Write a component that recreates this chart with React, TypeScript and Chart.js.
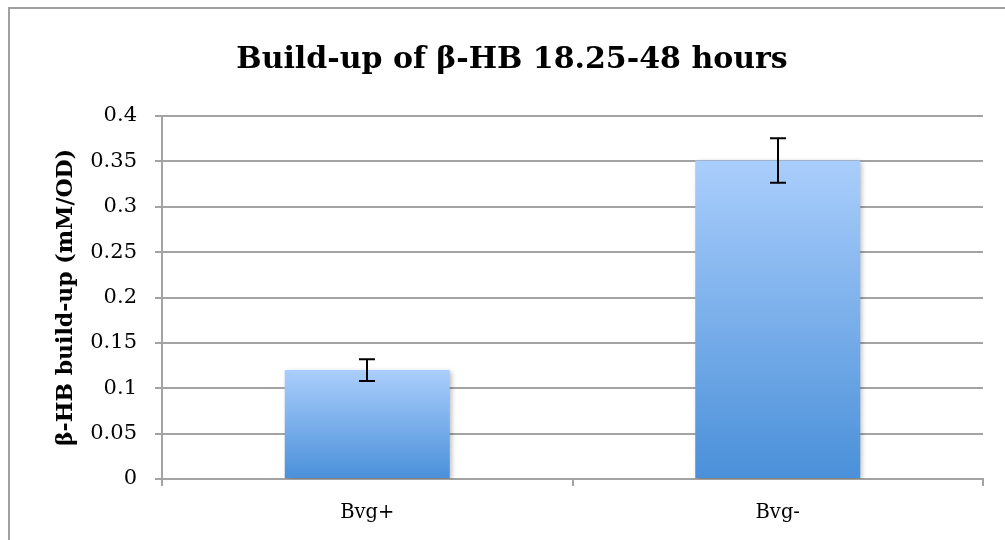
import React, { useEffect, useRef } from 'react';
import { Chart, registerables } from 'chart.js';

Chart.register(...registerables);

const categories = ['Bvg+', 'Bvg-'];
const values = [0.12, 0.351];
const errors = [0.012, 0.0245];
const yTickLabels = ['0', '0.05', '0.1', '0.15', '0.2', '0.25', '0.3', '0.35', '0.4'];
const titleText = 'Build-up of β-HB 18.25-48 hours';
const yAxisTitle = 'β-HB build-up (mM/OD)';

const GRID = '#a3a3a3';
const FONT = '"DejaVu Serif", serif';

export default function App() {
  const ref = useRef<HTMLCanvasElement | null>(null);

  useEffect(() => {
    document.body.style.margin = '0';
    document.body.style.overflow = 'hidden';
    const canvas = ref.current;
    if (!canvas) return;

    const framePlugin = {
      id: 'frame',
      beforeDraw(chart: any) {
        const ctx = chart.ctx;
        ctx.save();
        ctx.fillStyle = '#ffffff';
        ctx.fillRect(0, 0, chart.width, chart.height);
        ctx.fillStyle = '#a0a0a0';
        ctx.fillRect(8, 7, chart.width - 8, 2);
        ctx.fillRect(8, 7, 2, chart.height - 7);
        ctx.restore();
      },
      afterDraw(chart: any) {
        const ctx = chart.ctx;
        ctx.save();
        ctx.font = 'bold 30px ' + FONT;
        ctx.fillStyle = '#000000';
        ctx.textAlign = 'center';
        ctx.textBaseline = 'middle';
        ctx.fillText(titleText, 512, 60);
        ctx.restore();
      },
    };

    const shadowPlugin = {
      id: 'barShadow',
      beforeDatasetsDraw(chart: any) {
        const ctx = chart.ctx;
        ctx.save();
        ctx.shadowColor = 'rgba(0,0,0,0.28)';
        ctx.shadowBlur = 5;
        ctx.shadowOffsetX = 2;
        ctx.shadowOffsetY = 2;
      },
      afterDatasetsDraw(chart: any) {
        const ctx = chart.ctx;
        ctx.restore();
        const meta = chart.getDatasetMeta(0);
        const ys = chart.scales.y;
        ctx.save();
        ctx.strokeStyle = '#000000';
        ctx.lineWidth = 2;
        meta.data.forEach((bar: any, i: number) => {
          const x = Math.round(bar.x);
          const yt = ys.getPixelForValue(values[i] + errors[i]);
          const yb = ys.getPixelForValue(values[i] - errors[i]);
          ctx.beginPath();
          ctx.moveTo(x, yt);
          ctx.lineTo(x, yb);
          ctx.moveTo(x - 8, yt);
          ctx.lineTo(x + 8, yt);
          ctx.moveTo(x - 8, yb);
          ctx.lineTo(x + 8, yb);
          ctx.stroke();
        });
        ctx.restore();
      },
    };

    const chart = new Chart(canvas, {
      type: 'bar',
      data: {
        labels: categories,
        datasets: [
          {
            data: values,
            backgroundColor: (c: any) => {
              const ch = c.chart;
              const ys = ch.scales && ch.scales.y;
              if (!ch.chartArea || !ys || c.dataIndex == null) return '#7fb0ea';
              const top = ys.getPixelForValue(values[c.dataIndex]);
              const bottom = ys.getPixelForValue(0);
              if (!isFinite(top) || !isFinite(bottom) || top === bottom) return '#7fb0ea';
              const g = ch.ctx.createLinearGradient(0, top, 0, bottom);
              g.addColorStop(0, '#aacefc');
              g.addColorStop(1, '#4a90d9');
              return g;
            },
            borderWidth: 0,
            categoryPercentage: 1,
            barPercentage: 0.402,
          },
        ],
      },
      options: {
        responsive: false,
        animation: false,
        devicePixelRatio: 1,
        layout: { padding: { left: 0, right: 22, top: 116, bottom: 5 } },
        plugins: {
          legend: { display: false },
          tooltip: { enabled: false },
          title: { display: false },
        },
        scales: {
          x: {
            type: 'category',
            offset: true,
            grid: {
              offset: true,
              drawOnChartArea: false,
              drawTicks: true,
              tickLength: 7,
              color: GRID,
              lineWidth: 2,
            },
            border: { display: true, color: GRID, width: 2 },
            ticks: {
              color: '#000000',
              padding: 15,
              font: { family: FONT, size: 19.5 },
            },
            afterFit(scale: any) {
              scale.height = 56;
            },
          },
          y: {
            min: 0,
            max: 0.4,
            ticks: {
              stepSize: 0.05,
              color: '#000000',
              padding: 18,
              font: { family: FONT, size: 21 },
              callback: (_v: any, i: number) => yTickLabels[i],
            },
            grid: {
              color: GRID,
              lineWidth: 2,
              tickLength: 7,
              drawTicks: true,
            },
            border: { display: true, color: GRID, width: 2 },
            title: {
              display: true,
              text: yAxisTitle,
              color: '#000000',
              font: { family: FONT, size: 22, weight: 'bold' },
              padding: { top: 53, bottom: 0 },
            },
            afterFit(scale: any) {
              scale.width = 162;
            },
          },
        },
      },
      plugins: [framePlugin, shadowPlugin],
    });

    return () => chart.destroy();
  }, []);

  return (
    <canvas
      ref={ref}
      width={1005}
      height={540}
      style={{ display: 'block', width: '1005px', height: '540px' }}
    />
  );
}
